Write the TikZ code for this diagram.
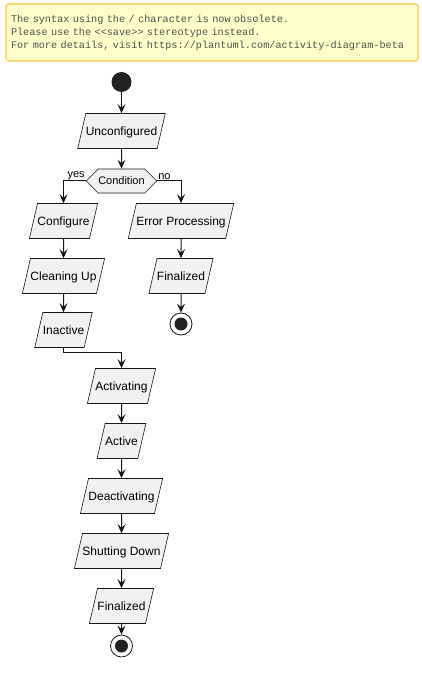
\documentclass[tikz,border=0pt]{standalone}
\usepackage{fontspec}
\setmainfont{Liberation Sans}
\setmonofont{Liberation Mono}
\usetikzlibrary{shapes.geometric,shapes.symbols,arrows.meta}
\definecolor{boxfill}{HTML}{F1F1F1}
\definecolor{boxline}{HTML}{181818}
\definecolor{notefill}{HTML}{FFFFCC}
\definecolor{noteline}{HTML}{FFD983}
\definecolor{notetext}{HTML}{505050}
\definecolor{dotfill}{HTML}{222222}
\begin{document}
\begin{tikzpicture}[x=1pt,y=-1pt,
  actbox/.style={trapezium, trapezium left angle=77, trapezium right angle=103,
    draw=boxline, fill=boxfill, line width=0.6pt,
    text height=10.3pt, text depth=1.7pt,
    inner xsep=0pt, inner ysep=11.5pt, font=\fontsize{12}{14}\selectfont},
  decbox/.style={signal, signal to=west and east, signal pointer angle=90,
    draw=boxline, fill=boxfill, line width=0.6pt, minimum height=24pt,
    inner xsep=0pt, inner ysep=0pt, font=\fontsize{11}{13}\selectfont},
  startdot/.style={circle, fill=dotfill, minimum size=20pt, inner sep=0pt},
  enddot/.style={circle, draw=boxline, fill=white, line width=0.8pt, minimum size=22pt, inner sep=0pt},
  flow/.style={draw=boxline, line width=1pt, -{Stealth[length=9pt, width=8pt, inset=3.5pt]}},
  branchlabel/.style={font=\fontsize{11}{13}\selectfont, inner sep=1pt},
  notebox/.style={draw=noteline, fill=notefill, line width=2pt, rounded corners=3pt,
    anchor=north west, text width=402pt, inner xsep=5pt, minimum height=57pt,
    align=left, text=notetext, font=\ttfamily\fontsize{10.2}{13}\selectfont}
]
\useasboundingbox (0,0) rectangle (421,676);

\node[notebox] (note) at (5,3) {The syntax using the / character is now obsolete.\\
Please use the <{}<save>{}> stereotype instead.\\
For more details, visit https://plantuml.com/activity-diagram-beta};

\node[startdot] (start) at (121.5,82) {};
\node[actbox] (uncfg) at (121.5,131) {Unconfigured};
\node[decbox] (cond) at (121.5,181) {Condition};
\node[actbox] (cfg) at (63.5,221) {Configure};
\node[actbox] (err) at (181,221) {Error Processing};
\node[actbox] (clean) at (63.5,276) {Cleaning Up};
\node[actbox] (finA) at (181,276) {Finalized};
\node[enddot] (endA) at (181,324) {};
\fill[dotfill] (endA.center) circle (6.5pt);
\node[actbox] (inact) at (63.5,330) {Inactive};
\node[actbox] (activ) at (121.5,386) {Activating};
\node[actbox] (active) at (121.5,441) {Active};
\node[actbox] (deact) at (121.5,496) {Deactivating};
\node[actbox] (shut) at (121.5,551) {Shutting Down};
\node[actbox] (finB) at (121.5,606) {Finalized};
\node[enddot] (endB) at (121.5,646) {};
\fill[dotfill] (endB.center) circle (6.5pt);

\draw[flow] (start) -- (uncfg);
\draw[flow] (uncfg) -- (cond);
\draw[flow] (cond.west) -| (cfg.north);
\node[branchlabel, anchor=south east] (yes) at (cond.west) {yes};
\draw[flow] (cond.east) -| (err.north);
\node[branchlabel, anchor=south west] (no) at (cond.east) {no};
\draw[flow] (cfg) -- (clean);
\draw[flow] (clean) -- (inact);
\draw[flow] (inact.south) -- ++(0,5) -| (activ.north);
\draw[flow] (err) -- (finA);
\draw[flow] (finA) -- (endA);
\draw[flow] (activ) -- (active);
\draw[flow] (active) -- (deact);
\draw[flow] (deact) -- (shut);
\draw[flow] (shut) -- (finB);
\draw[flow] (finB) -- (endB);
\end{tikzpicture}
\end{document}
